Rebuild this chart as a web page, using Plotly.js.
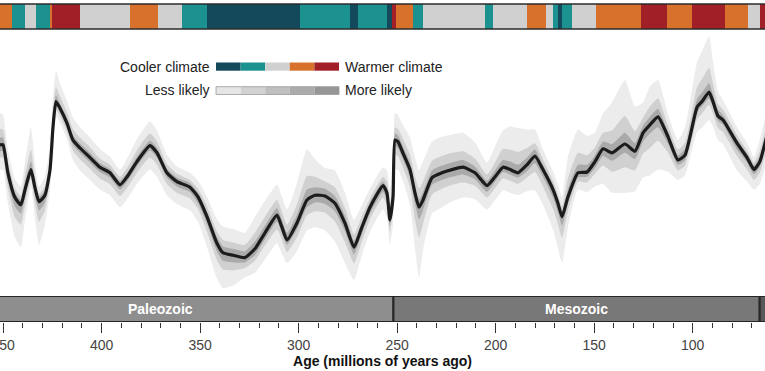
<!DOCTYPE html>
<html><head><meta charset="utf-8">
<script src="https://cdn.plot.ly/plotly-3.0.1.min.js"></script>
<style>html,body{margin:0;padding:0;background:#fff}#chart{width:765px;height:371px}</style>
</head><body><div id="chart"></div>
<script>
// Age (millions of years ago)
const ageMa = [454.0,451.6,450.1,447.6,444.0,441.0,438.9,435.9,433.9,431.8,
428.8,426.2,424.7,423.2,421.2,417.6,414.6,411.0,405.9,400.9,
395.8,390.7,387.1,382.1,375.5,371.9,366.9,361.8,355.2,351.1,
346.5,341.5,338.4,333.3,327.3,322.2,317.1,311.0,308.5,305.9,
300.9,295.8,291.7,286.6,281.6,276.5,271.9,267.9,263.8,257.2,
255.2,253.7,252.1,251.1,249.6,247.1,243.5,241.0,238.9,236.9,
232.3,227.3,222.2,216.6,210.5,204.4,200.3,196.3,192.7,188.7,
184.1,180.1,176.0,170.9,168.4,166.3,163.3,158.2,153.6,149.6,
145.5,140.9,134.4,129.3,125.2,121.7,117.6,112.5,107.5,103.9,
97.8,95.3,91.7,89.7,87.2,84.6,77.5,72.4,68.9,65.9,
63.3,61.5];
// Median global mean surface temperature (°C)
const medianT = [29.0,28.4,28.4,24.9,21.8,20.9,22.8,25.3,23.1,21.3,
22.1,25.3,30.6,33.8,33.0,31.1,29.0,28.0,26.8,25.6,
24.9,23.4,24.4,26.3,28.3,27.4,24.9,23.8,23.1,21.9,
19.4,16.1,14.9,14.6,14.3,15.4,17.4,19.6,18.1,16.5,
18.6,21.5,22.1,22.0,21.1,18.6,15.6,18.1,20.6,23.3,
22.4,19.0,21.9,29.0,28.8,27.4,25.3,22.4,20.6,21.5,
24.3,24.9,25.3,25.6,24.9,23.3,24.4,25.6,25.3,24.9,
25.9,27.0,25.3,22.8,21.1,19.4,21.9,24.9,25.0,26.3,
27.9,27.4,28.5,27.6,29.9,30.9,31.9,29.4,26.5,27.1,
33.1,33.8,35.0,33.8,32.0,31.5,28.6,26.8,25.3,26.3,
28.6,30.3];
// Uncertainty spreads above / below the median (°C)
const outerUp = [4.0,4.0,3.8,3.0,2.3,2.3,3.5,5.3,3.1,1.9,
2.3,3.1,3.8,3.8,3.1,2.8,2.8,2.6,2.5,2.3,
2.0,1.9,2.3,2.8,3.0,2.8,2.3,1.9,1.8,2.0,
2.5,3.0,3.3,3.3,3.1,4.0,4.0,3.8,3.8,3.8,
5.0,6.3,4.5,3.5,4.1,3.8,3.4,2.8,2.3,2.3,
2.8,3.8,3.8,3.4,3.3,3.5,4.0,4.4,4.6,4.8,
4.5,4.5,4.4,4.3,3.8,2.9,3.8,4.6,5.4,5.6,
4.4,3.3,2.5,2.3,2.3,2.5,5.0,5.4,4.5,3.6,
4.4,6.3,8.0,5.6,3.8,4.8,4.6,2.8,2.5,3.5,
5.6,6.3,6.9,5.0,3.1,2.5,2.0,1.8,1.6,2.8,
3.1,3.1];
const outerDn = [3.1,3.1,3.1,3.8,5.0,5.3,3.8,2.1,3.8,5.4,
3.8,2.5,1.9,1.9,1.8,2.0,2.5,2.8,2.8,2.8,
2.8,2.8,2.8,2.8,3.0,3.0,2.8,2.8,2.9,3.1,
3.8,4.4,4.4,3.8,2.5,3.0,3.3,3.5,3.3,2.9,
3.5,3.8,4.0,4.3,4.8,5.0,4.1,3.5,3.1,3.0,
3.0,3.1,3.5,3.8,3.5,3.5,4.4,6.9,8.8,6.3,
4.5,4.3,4.0,3.8,3.3,3.0,2.9,2.9,2.9,2.8,
3.3,4.3,4.4,5.0,5.6,5.8,3.8,2.1,2.5,3.1,
4.4,5.0,6.1,5.0,5.6,6.3,6.6,4.4,2.5,2.5,
3.1,3.3,3.5,3.1,3.0,3.0,3.4,3.0,2.5,2.8,
3.1,3.1];
const midUp = [2.0,2.0,1.9,1.5,1.1,1.1,1.8,2.5,1.5,1.0,
1.1,1.5,1.9,1.8,1.5,1.4,1.4,1.3,1.3,1.1,
1.0,1.0,1.1,1.4,1.5,1.4,1.1,1.0,0.9,1.0,
1.3,1.5,1.6,1.6,1.6,2.0,2.0,1.9,1.9,1.9,
2.3,3.0,2.3,1.8,2.0,1.9,1.6,1.4,1.1,1.1,
1.4,1.8,1.8,1.6,1.6,1.8,1.9,2.1,2.3,2.3,
2.1,2.1,2.1,2.0,1.8,1.4,1.8,2.3,2.5,2.6,
2.1,1.6,1.3,1.1,1.1,1.3,2.3,2.5,2.1,1.8,
2.0,2.8,3.5,2.5,1.9,2.3,2.3,1.4,1.3,1.6,
2.5,2.8,3.0,2.3,1.5,1.3,1.0,0.9,0.9,1.4,
1.5,1.5];
const midDn = [1.6,1.6,1.6,1.9,2.5,2.5,1.9,1.1,1.9,2.5,
1.9,1.3,1.0,1.0,1.0,1.1,1.3,1.4,1.4,1.4,
1.4,1.4,1.4,1.4,1.5,1.5,1.4,1.4,1.4,1.5,
1.9,2.1,2.1,1.9,1.3,1.5,1.6,1.8,1.6,1.5,
1.8,1.9,2.0,2.1,2.3,2.4,2.0,1.8,1.5,1.5,
1.5,1.5,1.6,1.8,1.8,1.8,2.1,3.3,3.8,3.0,
2.1,2.0,1.9,1.9,1.6,1.5,1.4,1.4,1.4,1.4,
1.6,2.0,2.1,2.4,2.6,2.6,1.8,1.1,1.3,1.5,
2.1,2.4,2.9,2.4,2.6,2.9,3.0,2.0,1.3,1.3,
1.5,1.5,1.6,1.5,1.5,1.5,1.6,1.5,1.3,1.4,
1.5,1.5];
const innerUp = [0.9,0.9,0.9,0.8,0.6,0.6,0.8,1.0,0.8,0.6,
0.6,0.8,0.8,0.8,0.6,0.6,0.6,0.6,0.6,0.5,
0.5,0.5,0.5,0.6,0.6,0.6,0.5,0.5,0.5,0.5,
0.6,0.8,0.8,0.8,0.8,0.9,0.9,0.9,0.9,0.9,
1.0,1.3,1.0,0.9,0.9,0.9,0.8,0.6,0.6,0.5,
0.6,0.8,0.8,0.8,0.8,0.8,0.9,0.9,1.0,1.0,
0.9,0.9,0.9,0.9,0.8,0.6,0.8,0.9,1.0,1.0,
0.9,0.8,0.6,0.6,0.6,0.6,0.9,1.0,0.9,0.8,
0.9,1.1,1.4,1.0,0.9,1.0,1.0,0.6,0.6,0.8,
1.0,1.1,1.1,0.9,0.8,0.6,0.5,0.5,0.5,0.6,
0.6,0.6];
const innerDn = [0.8,0.8,0.8,0.9,1.1,1.1,0.9,0.6,0.9,1.1,
0.9,0.6,0.5,0.5,0.5,0.5,0.6,0.6,0.6,0.6,
0.6,0.6,0.6,0.6,0.6,0.6,0.6,0.6,0.6,0.8,
0.9,1.0,1.0,0.9,0.6,0.8,0.8,0.8,0.8,0.6,
0.8,0.9,0.9,1.0,1.0,1.0,0.9,0.8,0.8,0.8,
0.8,0.8,0.8,0.8,0.8,0.8,0.9,1.3,1.5,1.3,
0.9,0.9,0.9,0.9,0.8,0.8,0.6,0.6,0.6,0.6,
0.8,0.9,0.9,1.0,1.1,1.1,0.8,0.6,0.6,0.8,
0.9,1.0,1.1,1.0,1.1,1.1,1.3,0.9,0.6,0.6,
0.6,0.6,0.8,0.6,0.6,0.6,0.8,0.6,0.6,0.6,
0.6,0.6];

// Climate state strip (older edge, younger edge, class 0=coolest..4=warmest)
const climateOld = [460,445.5,438.9,433.3,426.2,425.2,411.0,385.6,371.4,359.2,346.5,299.3,274.0,269.9,255.2,252.6,250.6,242.0,236.9,205.4,201.4,184.1,174.5,170.9,168.4,166.3,161.3,149.1,126.2,113.1,100.4,83.6,71.9,65.8];
const climateYoung = [445.5,438.9,433.3,426.2,425.2,411.0,385.6,371.4,359.2,346.5,299.3,274.0,269.9,255.2,252.6,250.6,242.0,236.9,205.4,201.4,184.1,174.5,170.9,168.4,166.3,161.3,149.1,126.2,113.1,100.4,83.6,71.9,65.8,55];
const climateClass = [3,1,2,1,3,4,2,3,2,1,0,1,0,1,0,4,3,1,2,1,2,3,2,1,0,1,2,3,4,3,4,3,2,4];
const climatePalette = ['#13495a','#1c9290','#d0d0d0','#d8712b','#a11f27'];
const climateLegendLabels = ['Cooler climate','Warmer climate'];
const likelihoodPalette = ['#e6e6e6','#d2d2d2','#bfbfbf','#ababab','#969696'];
const likelihoodLegendLabels = ['Less likely','More likely'];

// Geologic eras
const eraNames = ['Paleozoic','Mesozoic','Cenozoic'];
const eraOld = [538.8,251.9,66.0];
const eraYoung = [251.9,66.0,0];
const eraColors = ['#8e8e8e','#787878','#595959'];
const eraLabelAge = [370,159];

const tickAges = [450,400,350,300,250,200,150,100];
const bandColors = ['#ececec','#d0d0d0','#aaaaaa'];

function band(up, dn, color){
  const hi = ageMa.map((a,i)=>medianT[i]+up[i]);
  const lo = ageMa.map((a,i)=>medianT[i]-dn[i]);
  return {type:'scatter', mode:'lines', x: ageMa.concat(ageMa.slice().reverse()),
    y: hi.concat(lo.slice().reverse()), fill:'toself', fillcolor: color,
    line:{width:0, shape:'spline', smoothing:0.5}, hoverinfo:'skip', xaxis:'x', yaxis:'y', showlegend:false};
}

const traces = [
  band(outerUp, outerDn, bandColors[0]),
  band(midUp, midDn, bandColors[1]),
  band(innerUp, innerDn, bandColors[2]),
  {type:'scatter', mode:'lines', x: ageMa, y: medianT, line:{color:'#1c1c1c', width:3.2, shape:'spline', smoothing:0.5},
   xaxis:'x', yaxis:'y', showlegend:false, hoverinfo:'skip'},
  {type:'bar', orientation:'h', y: climateOld.map(()=>0), x: climateOld.map((o,i)=>o-climateYoung[i]), base: climateYoung,
   width: 1, marker:{color: climateClass.map(c=>climatePalette[c]), line:{width:0}}, xaxis:'x', yaxis:'y2', showlegend:false, hoverinfo:'skip'},
  {type:'bar', orientation:'h', y: eraOld.map(()=>0), x: eraOld.map((o,i)=>o-eraYoung[i]), base: eraYoung,
   width: 1, marker:{color: eraColors, line:{width:2, color:'#262626'}}, xaxis:'x', yaxis:'y3', showlegend:false, hoverinfo:'skip'}
];

const H = 318, TOP = 4;
const py = p => (TOP + H - p) / H;
const px = p => p / 765;
const shapes = [];
const bx0 = 216, bw = 24.6;
climatePalette.forEach((c,i)=>shapes.push({type:'rect', xref:'paper', yref:'paper', x0:px(bx0+i*bw), x1:px(bx0+(i+1)*bw), y0:py(70.7), y1:py(62.5), fillcolor:c, line:{width:0}}));
likelihoodPalette.forEach((c,i)=>shapes.push({type:'rect', xref:'paper', yref:'paper', x0:px(bx0+i*bw), x1:px(bx0+(i+1)*bw), y0:py(94.5), y1:py(86.7), fillcolor:c, line:{width:0}}));
shapes.push({type:'rect', xref:'paper', yref:'paper', x0:px(bx0), x1:px(bx0+5*bw), y0:py(94.5), y1:py(86.7), line:{width:0.8, color:'#9a9a9a'}});
shapes.push({type:'rect', xref:'paper', yref:'y2 domain', x0:-0.01, x1:1.01, y0:0, y1:1, line:{width:1.6, color:'#2b2b2b'}});

const txtFont = {family:'Liberation Sans, Arial, sans-serif', size:14, color:'#222'};
const annotations = [
  {xref:'paper', yref:'paper', x:px(212), y:py(66.6), xanchor:'right', yanchor:'middle', text:climateLegendLabels[0], showarrow:false, font:txtFont},
  {xref:'paper', yref:'paper', x:px(343), y:py(66.6), xanchor:'left', yanchor:'middle', text:climateLegendLabels[1], showarrow:false, font:txtFont},
  {xref:'paper', yref:'paper', x:px(212), y:py(89.5), xanchor:'right', yanchor:'middle', text:likelihoodLegendLabels[0], showarrow:false, font:txtFont},
  {xref:'paper', yref:'paper', x:px(343), y:py(89.5), xanchor:'left', yanchor:'middle', text:likelihoodLegendLabels[1], showarrow:false, font:txtFont}
];
eraLabelAge.forEach((a,i)=>annotations.push({xref:'x', yref:'y3', x:a, y:0, text:'<b>'+eraNames[i]+'</b>', showarrow:false,
  font:{family:'Liberation Sans, Arial, sans-serif', size:14, color:'#ffffff'}}));

const layout = {
  width:765, height:371, margin:{l:0, r:0, t:TOP, b:49}, paper_bgcolor:'#fff', plot_bgcolor:'rgba(0,0,0,0)',
  showlegend:false, barmode:'overlay', bargap:0,
  font:{family:'Liberation Sans, Arial, sans-serif', size:14, color:'#444'},
  xaxis:{range:[451.6,63.3], anchor:'y3', tickmode:'array', tickvals:tickAges, ticktext:tickAges.map(String),
    ticks:'outside', ticklen:10, tickwidth:1.2, tickcolor:'#333', showgrid:false, zeroline:false, showline:false,
    ticklabeloverflow:'allow', tickfont:{size:14, color:'#444'},
    minor:{tickmode:'linear', tick0:0, dtick:10, ticks:'outside', ticklen:5, tickwidth:1, tickcolor:'#333', showgrid:false},
    title:{text:'<b>Age (millions of years ago)</b>', font:{size:14, color:'#111'}, standoff:2}},
  yaxis:{domain:[26/318, 292/318], range:[9.5, 42.75], visible:false, fixedrange:true},
  yaxis2:{domain:[293/318, 1], range:[-0.5,0.5], visible:false},
  yaxis3:{domain:[0, 26/318], range:[-0.5,0.5], visible:false},
  shapes: shapes, annotations: annotations
};
Plotly.newPlot('chart', traces, layout, {staticPlot:true, displayModeBar:false});
</script></body></html>
